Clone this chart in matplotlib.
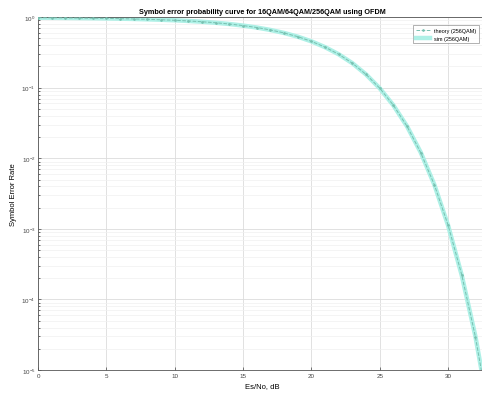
import numpy as np
import matplotlib.pyplot as plt
plt.rcParams.update({'font.family': 'Liberation Sans', 'font.size': 5})

# Es/No em dB e taxa de erro de simbolo (256QAM)
EsNo_dB = [0, 1, 2, 3, 4, 5, 6, 7, 8, 9, 10, 11, 12, 13, 14, 15, 16,
           17, 18, 19, 20, 21, 22, 23, 24, 25, 26, 27, 28, 29, 30, 31, 32, 33]
ser_theory = [0.979, 0.977, 0.973, 0.969, 0.964, 0.958, 0.950, 0.941,
              0.930, 0.917, 0.901, 0.882, 0.859, 0.831, 0.798, 0.758,
              0.712, 0.658, 0.596, 0.528, 0.453, 0.375, 0.297, 0.222,
              0.154, 0.0983, 0.0563, 0.0283, 0.0120, 4.19e-3, 1.13e-3,
              2.23e-4, 2.95e-5, 2.4e-6]
ser_sim = [0.979, 0.977, 0.973, 0.969, 0.964, 0.958, 0.950, 0.941,
           0.930, 0.917, 0.901, 0.882, 0.859, 0.831, 0.798, 0.758,
           0.712, 0.657, 0.596, 0.528, 0.453, 0.375, 0.297, 0.222,
           0.154, 0.0980, 0.0562, 0.0283, 0.0121, 4.2e-3, 1.12e-3,
           2.2e-4, 3.0e-5, 2.5e-6]

fig = plt.figure(figsize=(4.82, 4.02), dpi=100)
ax = fig.add_axes([0.079, 0.077, 0.93, 0.878])

ax.semilogy(EsNo_dB, ser_sim, color='#aef0e6', lw=3.2, label='sim (256QAM)', zorder=2)
ax.semilogy(EsNo_dB, ser_theory, '--', color='#78c0b0', lw=0.7, marker='.',
            ms=1.8, label='theory (256QAM)', zorder=3)

ax.set_xlim(0, 32.8)
ax.set_ylim(1e-5, 1)
ax.set_xticks([0, 5, 10, 15, 20, 25, 30])
ax.grid(True, which='major', color='#dcdcdc', lw=0.6)
ax.grid(True, which='minor', axis='y', color='#f0f0f0', lw=0.5)
ax.tick_params(direction='in', length=2, width=0.5, labelsize=4.5, pad=2, colors='#444444')
ax.tick_params(which='minor', direction='in', length=1.2, width=0.4)
for s in ax.spines.values():
    s.set_linewidth(0.6)
    s.set_color('#555555')

ax.set_title('Symbol error probability curve for 16QAM/64QAM/256QAM using OFDM',
             fontsize=5.2, fontweight='bold', pad=3)
ax.set_xlabel('Es/No, dB', fontsize=5.5, labelpad=3)
ax.set_ylabel('Symbol Error Rate', fontsize=5.5, labelpad=3)

h, l = ax.get_legend_handles_labels()
leg = ax.legend(h[::-1], l[::-1], loc='upper right', bbox_to_anchor=(0.99, 0.985),
                fontsize=4.0, handlelength=2.5, frameon=True, fancybox=False,
                edgecolor='#777777', borderpad=0.5, labelspacing=0.5)
leg.get_frame().set_linewidth(0.5)

fig.savefig('out.png', dpi=100)
